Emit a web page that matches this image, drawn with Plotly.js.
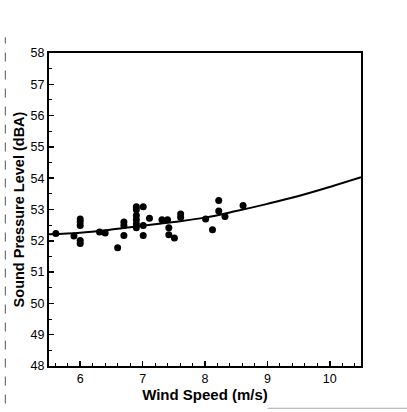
<!DOCTYPE html>
<html>
<head>
<meta charset="utf-8">
<script src="https://cdn.plot.ly/plotly-3.0.1.min.js"></script>
<style>html,body{margin:0;padding:0;background:#fff;}#chart{width:407px;height:412px;}</style>
</head>
<body>
<div id="chart"></div>
<script>
// Measured points
const windSpeed = [5.61,5.90,6.00,6.00,6.00,6.00,6.00,6.31,6.40,6.60,6.70,6.70,6.70,6.90,6.90,6.90,6.90,6.90,6.90,7.01,7.01,7.01,7.11,7.31,7.40,7.42,7.42,7.51,7.61,7.61,8.01,8.12,8.22,8.22,8.32,8.61];
const soundLevel = [52.23,52.15,52.70,52.60,52.49,52.01,51.91,52.28,52.25,51.78,52.60,52.49,52.17,53.09,52.99,52.81,52.67,52.54,52.42,53.09,52.49,52.17,52.72,52.67,52.67,52.42,52.19,52.09,52.86,52.75,52.70,52.35,53.29,52.95,52.78,53.13];
// Fitted curve
const fitX = [5.5,6,6.5,7,7.5,8,8.5,9,9.5,10,10.5];
const fitY = [52.21,52.26,52.36,52.48,52.60,52.74,52.95,53.18,53.43,53.72,54.03];
// Axis ticks
const xTicks = [6,7,8,9,10];
const yTicks = [48,49,50,51,52,53,54,55,56,57,58];

const data = [
  {x: fitX, y: fitY, type: 'scatter', mode: 'lines', line: {color: '#000', width: 2, shape: 'spline'}, hoverinfo: 'skip'},
  {x: windSpeed, y: soundLevel, type: 'scatter', mode: 'markers', marker: {color: '#000', size: 7}}
];

const axisCommon = {
  showgrid: false, zeroline: false, showline: true, linecolor: '#000', linewidth: 2,
  mirror: true, ticks: 'inside', ticklen: 5, tickwidth: 1.5, tickcolor: '#000',
  tickfont: {family: 'Liberation Sans, Arial, sans-serif', size: 12.5, color: '#000'}
};

const layout = {
  width: 407, height: 412,
  margin: {l: 48.5, r: 46, t: 52.7, b: 45.5},
  paper_bgcolor: '#fff', plot_bgcolor: '#fff',
  showlegend: false,
  xaxis: Object.assign({}, axisCommon, {
    range: [5.5, 10.5], tickvals: xTicks, ticktext: xTicks.map(String),
    minor: {dtick: 0.2, tick0: 0, ticks: 'inside', ticklen: 3, tickcolor: '#000', tickwidth: 1},
    title: {text: '<b>Wind Speed (m/s)</b>', font: {family: 'Liberation Sans, Arial, sans-serif', size: 15, color: '#000'}, standoff: 0}
  }),
  yaxis: Object.assign({}, axisCommon, {
    range: [48, 58], tickvals: yTicks, ticktext: yTicks.map(String),
    minor: {dtick: 0.5, tick0: 0, ticks: 'inside', ticklen: 3, tickcolor: '#000', tickwidth: 1},
    title: {text: '<b>Sound Pressure Level (dBA)</b>', font: {family: 'Liberation Sans, Arial, sans-serif', size: 14.5, color: '#000'}, standoff: 3}
  }),
  shapes: [
    {type: 'line', xref: 'paper', yref: 'paper', x0: -0.14, x1: -0.14, y0: -0.12, y1: 1.05,
     line: {color: '#555', width: 1, dash: 'dash'}},
    {type: 'line', xref: 'paper', yref: 'paper', x0: 0.7, x1: 1.15, y0: -0.135, y1: -0.135,
     line: {color: '#aaa', width: 1}}
  ]
};

Plotly.newPlot('chart', data, layout, {displayModeBar: false, staticPlot: true});
</script>
</body>
</html>
